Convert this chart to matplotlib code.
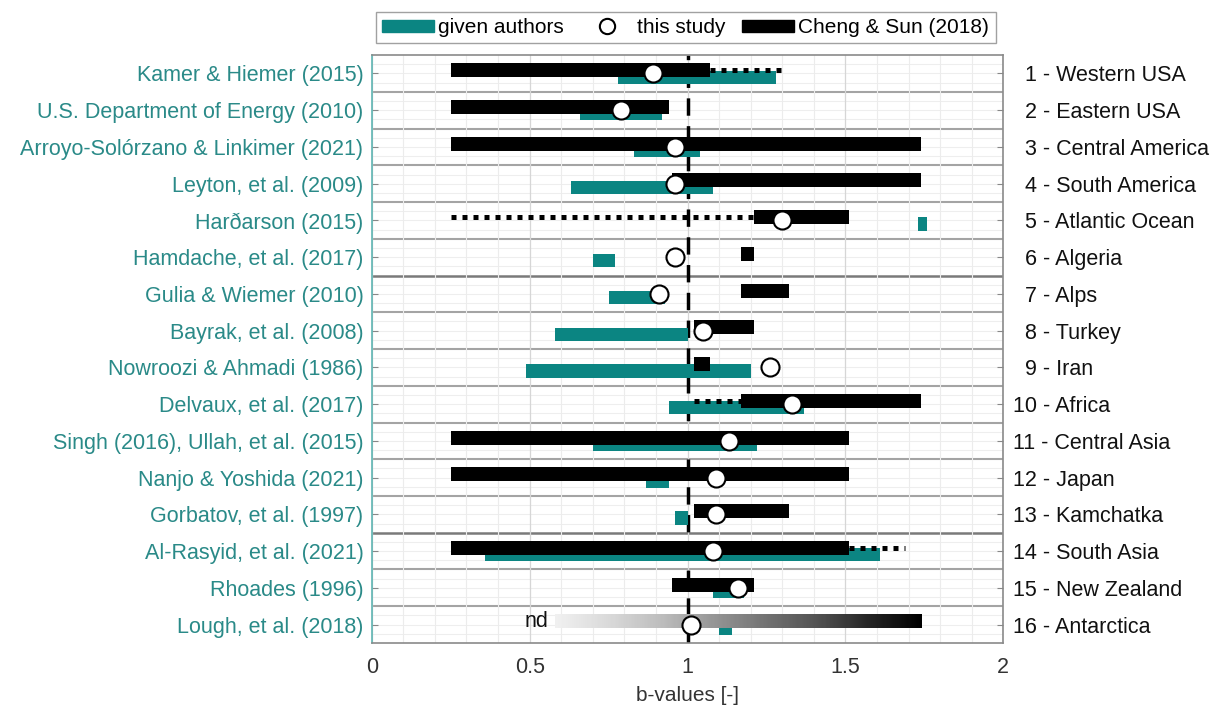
import numpy as np
import matplotlib

matplotlib.use("Agg")
import matplotlib.pyplot as plt
from matplotlib.patches import Patch
from matplotlib.lines import Line2D

plt.rcParams["font.family"] = ["Liberation Sans", "DejaVu Sans"]

TEAL, LABEL_TEAL, INK = "#0b8582", "#2a8a88", "#111111"
FS = 15.5

authors = ["Kamer & Hiemer (2015)", "U.S. Department of Energy (2010)",
           "Arroyo-Solórzano & Linkimer (2021)", "Leyton, et al. (2009)",
           "Harðarson (2015)", "Hamdache, et al. (2017)", "Gulia & Wiemer (2010)",
           "Bayrak, et al. (2008)", "Nowroozi & Ahmadi (1986)", "Delvaux, et al. (2017)",
           "Singh (2016), Ullah, et al. (2015)", "Nanjo & Yoshida (2021)",
           "Gorbatov, et al. (1997)", "Al-Rasyid, et al. (2021)", "Rhoades (1996)",
           "Lough, et al. (2018)"]
regions = ["Western USA", "Eastern USA", "Central America", "South America",
           "Atlantic Ocean", "Algeria", "Alps", "Turkey", "Iran", "Africa",
           "Central Asia", "Japan", "Kamchatka", "South Asia", "New Zealand",
           "Antarctica"]

# given authors (teal)
given_lo = [0.78, 0.66, 0.83, 0.63, 1.73, 0.70, 0.75, 0.58, 0.49, 0.94, 0.70, 0.87, 0.96, 0.36, 1.08, 1.10]
given_hi = [1.28, 0.92, 1.04, 1.08, 1.76, 0.77, 0.93, 1.00, 1.20, 1.37, 1.22, 0.94, 1.00, 1.61, 1.18, 1.14]
# Cheng & Sun (2018), solid part (row 16 is the gradient)
cs_lo = [0.25, 0.25, 0.25, 0.95, 1.21, 1.17, 1.17, 1.02, 1.02, 1.17, 0.25, 0.25, 1.02, 0.25, 0.95, None]
cs_hi = [1.07, 0.94, 1.74, 1.74, 1.51, 1.21, 1.32, 1.21, 1.07, 1.74, 1.51, 1.51, 1.32, 1.51, 1.21, None]
# Cheng & Sun dotted extensions: (row, from, to)
cs_dot_rows = [1, 5, 10, 14]
cs_dot_lo = [1.07, 0.25, 1.02, 1.51]
cs_dot_hi = [1.31, 1.21, 1.17, 1.69]
# Antarctica gradient range
grad_row, grad_lo, grad_hi = 16, 0.58, 1.74
# this study
this_study = [0.89, 0.79, 0.96, 0.96, 1.30, 0.96, 0.91, 1.05, 1.26, 1.33, 1.13, 1.09, 1.09, 1.08, 1.16, 1.01]
xticks = [0, 0.5, 1, 1.5, 2]
xtick_labels = ["0", "0.5", "1", "1.5", "2"]

rows = np.arange(1, len(authors) + 1)
BK_OFF, BK_H = -0.09, 0.38
TL_OFF, TL_H = 0.10, 0.36

fig = plt.figure(figsize=(12.31, 7.10), dpi=100)
ax = fig.add_axes([0.302, 0.0944, 0.513, 0.828])

# grid
ax.set_xlim(0, 2)
ax.set_ylim(16.5, 0.5)
ax.set_xticks(xticks)
ax.set_xticklabels(xtick_labels)
ax.set_xticks(np.arange(0, 2.001, 0.1), minor=True)
ax.grid(which="minor", axis="x", color="#ececec", lw=0.8, zorder=0)
ax.grid(which="major", axis="x", color="#d6d6d6", lw=0.9, zorder=0)
for r in rows:
    for f in (-0.25, 0.0, 0.25):
        ax.axhline(r + f, color="#eeeeee", lw=0.8, zorder=0)
for r in rows[:-1]:
    dark = r in (6, 13)
    ax.axhline(r + 0.5, color="#7a7a7a" if dark else "#a4a4a4",
               lw=1.8 if dark else 1.5, zorder=1)

ax.axvline(1, color="black", lw=2.5, ls=(0, (5, 3)), zorder=2)

# given authors
ax.barh(rows + TL_OFF, np.array(given_hi) - np.array(given_lo), left=given_lo,
        height=TL_H, color=TEAL, zorder=3)
# Cheng & Sun solid
for r, lo, hi in zip(rows, cs_lo, cs_hi):
    if lo is None:
        continue
    ax.barh(r + BK_OFF, hi - lo, left=lo, height=BK_H, color="black", zorder=4)
for r, lo, hi in zip(cs_dot_rows, cs_dot_lo, cs_dot_hi):
    ax.plot([lo, hi], [r + BK_OFF, r + BK_OFF], color="black", lw=3.6,
            ls=(0, (1, 1.2)), zorder=4)
# gradient (Antarctica)
grad = np.linspace(0.12, 1.0, 256).reshape(1, -1)
yc = grad_row + BK_OFF
ax.imshow(grad, cmap="Greys", vmin=0, vmax=1, aspect="auto", zorder=4,
          extent=[grad_lo, grad_hi, yc + BK_H / 2, yc - BK_H / 2])
ax.text(grad_lo - 0.02, yc, "nd", ha="right", va="center", fontsize=FS, color=INK)
ax.set_xlim(0, 2)
ax.set_ylim(16.5, 0.5)

# this study
ax.plot(this_study, rows, "o", ms=13, mfc="white", mec="black", mew=1.5, zorder=6)

ax.set_yticks(rows)
ax.set_yticklabels(authors, fontsize=FS, color=LABEL_TEAL)
ax.tick_params(axis="y", direction="in", length=4, color="#888888", pad=6)
ax.tick_params(axis="x", which="both", direction="in", top=True, length=0, labelsize=FS,
               labelcolor="#333333", pad=10)
ax.set_xlabel("b-values [-]", fontsize=FS - 0.5, color="#333333", labelpad=6)
for s in ("top", "right", "bottom"):
    ax.spines[s].set_color("#8a8a8a")
    ax.spines[s].set_linewidth(1.2)
ax.spines["left"].set_color("#5fb5b3")
ax.spines["left"].set_linewidth(1.2)

ax2 = ax.twinx()
ax2.set_ylim(16.5, 0.5)
ax2.set_yticks(rows)
ax2.set_yticklabels([("  " if i < 10 else "") + f"{i} - {n}" for i, n in zip(rows, regions)],
                    fontsize=FS, color=INK)
ax2.tick_params(axis="y", direction="in", length=4, color="#888888", pad=7)
for s in ax2.spines.values():
    s.set_visible(False)

fig.legend(handles=[
    Patch(color=TEAL, label="given authors"),
    Line2D([], [], ls="none", marker="o", ms=11, mfc="white", mec="black", mew=1.5,
           label="this study"),
    Patch(color="black", label="Cheng & Sun (2018)"),
], loc="upper center", bbox_to_anchor=(0.557, 0.998), ncol=3, fontsize=FS - 0.5,
    frameon=True, fancybox=False, edgecolor="#8a8a8a", handlelength=2.5,
    handleheight=0.5, handletextpad=0.2, columnspacing=0.8, borderpad=0.3)

fig.savefig("out.png", dpi=100, facecolor="white")
